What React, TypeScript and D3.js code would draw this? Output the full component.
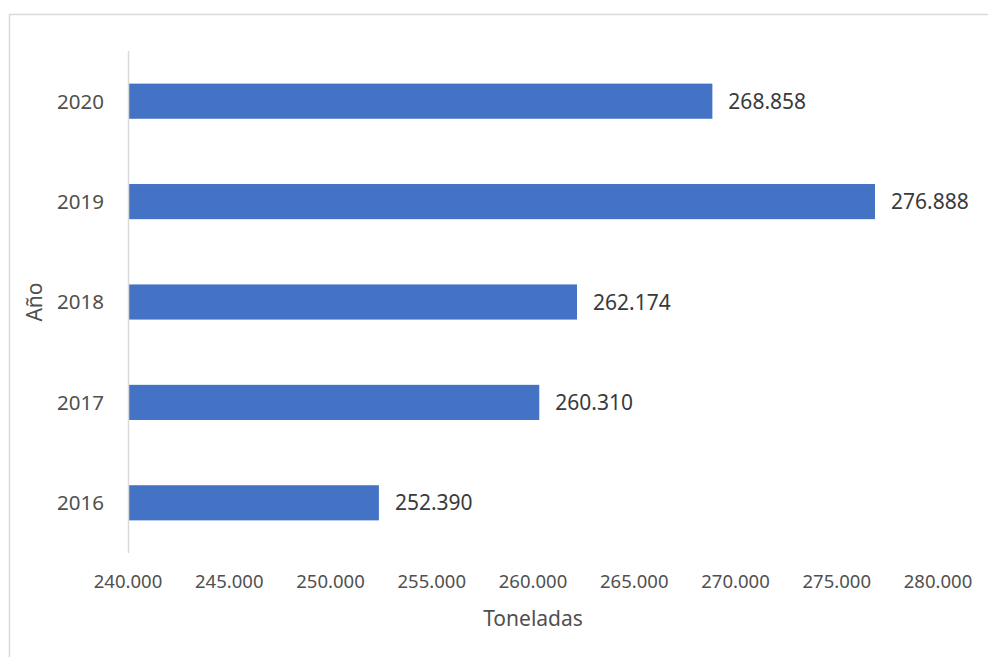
import { useEffect, useRef } from 'react';
import * as d3 from 'd3';

const years = ['2020', '2019', '2018', '2017', '2016'];
const tonnes = [268858, 276888, 262174, 260310, 252390];
const xTicks = [240000, 245000, 250000, 255000, 260000, 265000, 270000, 275000, 280000];

const fmt = (v: number): string => {
  const s = Math.round(v).toString();
  return s.slice(0, s.length - 3) + '.' + s.slice(-3);
};

export default function App(): React.JSX.Element {
  const svgRef = useRef<SVGSVGElement>(null);

  useEffect(() => {
    if (!svgRef.current) return;
    const svg = d3.select(svgRef.current);
    svg.selectAll('*').remove();

    const font = '"Noto Sans", "Open Sans", sans-serif';
    const left = 128, right = 938, top = 51, bottom = 553;

    // chart frame
    svg.append('rect')
      .attr('x', 9.5).attr('y', 14.5)
      .attr('width', 1000).attr('height', 700)
      .attr('fill', '#fff')
      .attr('stroke', '#d9d9d9')
      .attr('stroke-width', 1.5);

    const x = d3.scaleLinear().domain([240000, 280000]).range([left, right]);
    const y = d3.scaleBand<string>()
      .domain(years)
      .range([top, bottom])
      .paddingInner(0.65)
      .paddingOuter(0.325);

    // bars
    const data = years.map((yr, i) => ({ yr, v: tonnes[i] }));
    svg.append('g')
      .selectAll('rect')
      .data(data)
      .join('rect')
      .attr('x', x(240000))
      .attr('y', d => y(d.yr) ?? 0)
      .attr('width', d => x(d.v) - x(240000))
      .attr('height', y.bandwidth())
      .attr('fill', '#4472c4');

    // vertical axis line
    svg.append('line')
      .attr('x1', left + 0.5).attr('x2', left + 0.5)
      .attr('y1', top).attr('y2', bottom)
      .attr('stroke', '#d9d9d9')
      .attr('stroke-width', 1.5);

    // value labels
    svg.append('g')
      .selectAll('text')
      .data(data)
      .join('text')
      .attr('x', d => x(d.v) + 16)
      .attr('y', d => (y(d.yr) ?? 0) + y.bandwidth() / 2)
      .attr('dy', '0.36em')
      .attr('font-family', font)
      .attr('font-size', 21)
      .attr('fill', '#3a3a3a')
      .text(d => fmt(d.v));

    // category labels
    svg.append('g')
      .selectAll('text')
      .data(years)
      .join('text')
      .attr('x', 104)
      .attr('y', d => (y(d) ?? 0) + y.bandwidth() / 2)
      .attr('dy', '0.36em')
      .attr('text-anchor', 'end')
      .attr('font-family', font)
      .attr('font-size', 20.5)
      .attr('fill', '#505050')
      .text(d => d);

    // x tick labels
    svg.append('g')
      .selectAll('text')
      .data(xTicks)
      .join('text')
      .attr('x', d => x(d))
      .attr('y', 588)
      .attr('text-anchor', 'middle')
      .attr('font-family', font)
      .attr('font-size', 18.5)
      .attr('fill', '#505050')
      .text(d => fmt(d));

    // axis titles
    svg.append('text')
      .attr('x', (left + right) / 2)
      .attr('y', 626)
      .attr('text-anchor', 'middle')
      .attr('font-family', font)
      .attr('font-size', 21)
      .attr('fill', '#505050')
      .text('Toneladas');

    svg.append('text')
      .attr('transform', `translate(42, ${(top + bottom) / 2}) rotate(-90)`)
      .attr('text-anchor', 'middle')
      .attr('font-family', font)
      .attr('font-size', 21)
      .attr('fill', '#505050')
      .text('Año');
  }, []);

  return (
    <div style={{ position: 'absolute', left: 0, top: 0, width: 988, height: 657, overflow: 'hidden', background: '#fff' }}>
      <svg ref={svgRef} width={988} height={657} />
    </div>
  );
}
